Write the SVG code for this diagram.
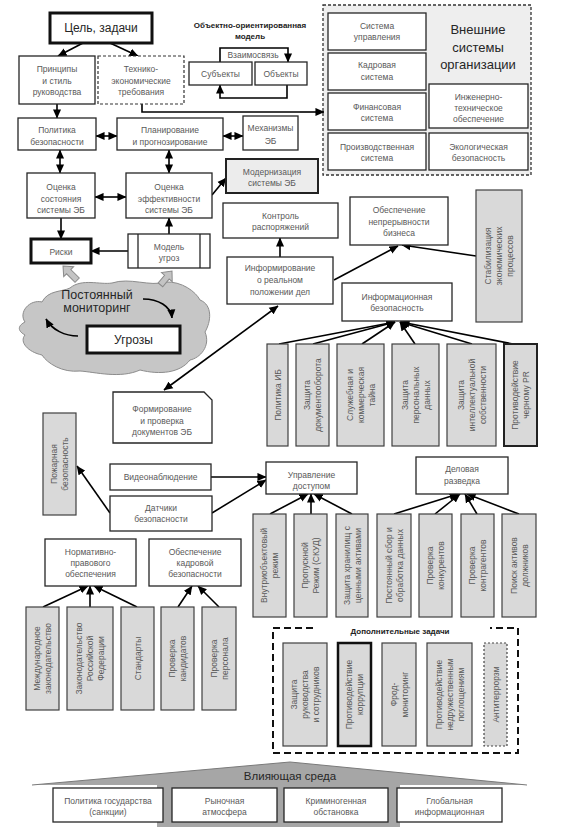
<svg xmlns="http://www.w3.org/2000/svg" width="561" height="837" viewBox="0 0 561 837">
<style>
.b{fill:#fff;stroke:#262626;stroke-width:1.3}
.g{fill:#d9d9d9;stroke:#404040;stroke-width:1.2}
.t{font-family:"Liberation Sans",Arial,sans-serif;font-size:8.5px;fill:#595959;text-anchor:middle}
.big{font-family:"Liberation Sans",Arial,sans-serif;fill:#262626;text-anchor:middle}
.bold{font-family:"Liberation Sans",Arial,sans-serif;font-size:8px;font-weight:bold;fill:#222;text-anchor:middle}
.c{stroke:#000;stroke-width:1.6;fill:none;marker-end:url(#ah)}
.d{stroke:#000;stroke-width:1.6;fill:none;marker-end:url(#ah);marker-start:url(#ah)}
.p{stroke:#000;stroke-width:1.6;fill:none}
.ga{fill:#c4c4c4;stroke:#8a8a8a;stroke-width:1}
</style>
<defs>
<marker id="ah" viewBox="0 0 10 10" refX="9.5" refY="5" markerWidth="9" markerHeight="9" markerUnits="userSpaceOnUse" orient="auto-start-reverse">
<path d="M0,0.5 L10,5 L0,9.5 z" fill="#000"/>
</marker>
</defs>
<rect width="561" height="837" fill="#fff"/>

<!-- background shapes -->
<g id="cloud">
<path d="M25,322 C18,312 30,299 42,302 C48,290 62,292 70,288 C82,278 100,285 112,283 C130,277 150,287 165,282 C182,281 196,292 200,300 C213,305 211,322 205,332 C211,346 200,358 190,360 C180,373 160,375 140,370 C120,379 95,372 80,371 C62,373 47,363 42,355 C28,352 19,342 25,335 C16,330 19,325 25,322 Z" fill="#c6c6c6" stroke="#8c8c8c" stroke-width="1"/>
<text class="big" x="97" y="299" font-size="12.5">Постоянный</text>
<text class="big" x="97" y="312" font-size="12.5">мониторинг</text>
</g>
<g id="environment">
<polygon points="32,785 290,762 527,785 400,785 400,827 157,827 157,785" fill="#a6a6a6"/>
<polyline points="32,785 290,762 527,785" fill="none" stroke="#7a7a7a" stroke-width="1"/>
<text class="big" x="290" y="780" font-size="11.5">Влияющая среда</text>
</g>
<g id="external">
<rect x="323" y="5" width="208" height="170" fill="#eeeeee" stroke="#333" stroke-width="1.3" stroke-dasharray="3 2"/>
<text class="big" x="478" y="34" font-size="13" fill="#111">Внешние</text>
<text class="big" x="478" y="52" font-size="13" fill="#111">системы</text>
<text class="big" x="478" y="69" font-size="13" fill="#111">организации</text>
</g>
<g id="extra">
<path d="M313,628 H273 V753 H518 V628 H490" fill="none" stroke="#111" stroke-width="2" stroke-dasharray="7 4"/>
<text class="bold" x="400" y="634">Дополнительные задачи</text>
</g>

<!-- connectors -->
<g id="connectors">
<path class="c" d="M83,43 L58,56"/>
<path class="c" d="M110,43 L138,56"/>
<path class="c" d="M57,104 V118"/>
<path class="p" d="M142,104 V112 H300"/>
<path class="c" d="M300,112 H324"/>
<path class="d" d="M96,136 H117"/>
<path class="d" d="M223,136 H243"/>
<path class="c" d="M220,62 V48 H288 V62"/>
<path class="c" d="M287,85 V98 H220 V85"/>
<path class="d" d="M60,150 V173"/>
<path class="d" d="M169,150 V173"/>
<path class="d" d="M95,197 H126"/>
<path class="c" d="M212,195 L226,178"/>
<path class="c" d="M61,218 V239"/>
<path class="c" d="M169,234 V218"/>
<path class="c" d="M128,251 H91"/>
<path class="c" d="M280,257 V238"/>
<path class="c" d="M334,280 L398,246"/>
<path class="c" d="M476,256 L402,245"/>
<path class="d" d="M278,306 L164,390"/>
<path class="c" d="M279,344 L395,322"/>
<path class="c" d="M313,344 L395,322"/>
<path class="c" d="M362,344 L395,322"/>
<path class="c" d="M415,344 L400,322"/>
<path class="c" d="M472,344 L400,322"/>
<path class="c" d="M513,344 L401,322"/>
<path class="c" d="M211,477 H266"/>
<path class="c" d="M212,513 L266,480"/>
<path class="c" d="M110,513 L77,466"/>
<path class="c" d="M270,514 L308,494"/>
<path class="c" d="M311,514 V494"/>
<path class="c" d="M352,514 L314,494"/>
<path class="c" d="M394,514 L458,494"/>
<path class="c" d="M435,514 L460,494"/>
<path class="c" d="M477,514 L465,494"/>
<path class="c" d="M519,514 L467,494"/>
<path class="c" d="M43,607 L88,586"/>
<path class="c" d="M90,607 V586"/>
<path class="c" d="M137,607 L94,586"/>
<path class="c" d="M178,607 L192,586"/>
<path class="c" d="M219,607 L198,586"/>
<path class="c" stroke-width="2" d="M143,299 C158,299 171,306 172,318"/>
<path class="c" stroke-width="2" d="M78,336 C65,336 52,330 46,319"/>
<polygon class="ga" transform="translate(63,266) rotate(-45)" points="0,0 7,8 3,8 3,20 -3,20 -3,8 -7,8"/>
<polygon class="ga" transform="translate(172,271) rotate(40)" points="0,0 7,8 3,8 3,18 -3,18 -3,8 -7,8"/>
</g>

<!-- nodes -->
<g id="goal"><rect x="50" y="13" width="102" height="30" fill="#fff" stroke="#111" stroke-width="3"/><text class="big" x="101" y="32" font-size="12">Цель, задачи</text></g>
<g id="principles"><rect class="b" x="19" y="56" width="76" height="48"/><text class="t" x="57" y="72">Принципы</text><text class="t" x="57" y="84">и стиль</text><text class="t" x="57" y="95">руководства</text></g>
<g id="tech"><rect x="98" y="56" width="86" height="48" fill="#fff" stroke="#333" stroke-width="1.2" stroke-dasharray="3 2"/><text class="t" x="141" y="72">Технико-</text><text class="t" x="141" y="84">экономические</text><text class="t" x="141" y="95">требования</text></g>
<g id="policy"><rect class="b" x="18" y="118" width="78" height="32"/><text class="t" x="57" y="133">Политика</text><text class="t" x="57" y="145">безопасности</text></g>
<g id="planning"><rect class="b" x="117" y="118" width="106" height="32"/><text class="t" x="170" y="133">Планирование</text><text class="t" x="170" y="145">и прогнозирование</text></g>
<g id="mechanisms"><rect class="b" x="243" y="116" width="55" height="34"/><text class="t" x="270.5" y="131">Механизмы</text><text class="t" x="270.5" y="144">ЭБ</text></g>
<g id="oomodel"><text class="bold" x="250" y="28">Объектно-ориентированная</text><text class="bold" x="250" y="39">модель</text><text class="t" x="253" y="58">Взаимосвязь</text></g>
<g id="subjects"><rect class="b" x="189" y="62" width="63" height="23"/><text class="t" x="220.5" y="77">Субъекты</text></g>
<g id="objects"><rect class="b" x="255" y="62" width="52" height="23"/><text class="t" x="281" y="77">Объекты</text></g>
<g id="ext-mgmt"><rect class="b" x="328" y="13" width="98" height="37"/><text class="t" x="377" y="29">Система</text><text class="t" x="377" y="40">управления</text></g>
<g id="ext-hr"><rect class="b" x="328" y="53" width="98" height="37"/><text class="t" x="377" y="68">Кадровая</text><text class="t" x="377" y="80">система</text></g>
<g id="ext-fin"><rect class="b" x="328" y="93" width="98" height="37"/><text class="t" x="377" y="110">Финансовая</text><text class="t" x="377" y="121">система</text></g>
<g id="ext-prod"><rect class="b" x="328" y="133" width="98" height="37"/><text class="t" x="377" y="150">Производственная</text><text class="t" x="377" y="161">система</text></g>
<g id="ext-eng"><rect class="b" x="429" y="84" width="99" height="44"/><text class="t" x="478.5" y="100">Инженерно-</text><text class="t" x="478.5" y="111">техническое</text><text class="t" x="478.5" y="122">обеспечение</text></g>
<g id="ext-eco"><rect class="b" x="429" y="133" width="99" height="37"/><text class="t" x="478.5" y="150">Экологическая</text><text class="t" x="478.5" y="161">безопасность</text></g>
<g id="state"><rect class="b" x="27" y="173" width="68" height="45"/><text class="t" x="61" y="190">Оценка</text><text class="t" x="61" y="202">состояния</text><text class="t" x="61" y="213">системы ЭБ</text></g>
<g id="efficiency"><rect class="b" x="126" y="173" width="86" height="45"/><text class="t" x="169" y="190">Оценка</text><text class="t" x="169" y="202">эффективности</text><text class="t" x="169" y="213">системы ЭБ</text></g>
<g id="modern"><rect x="226" y="159" width="92" height="34" fill="#ececec" stroke="#222" stroke-width="2"/><text class="t" x="272" y="175">Модернизация</text><text class="t" x="272" y="186">системы ЭБ</text></g>
<g id="risks"><rect x="31" y="239" width="60" height="24" fill="#fff" stroke="#111" stroke-width="3"/><text class="t" x="61" y="255">Риски</text></g>
<g id="threatmodel"><rect class="b" x="128" y="234" width="82" height="34"/><line x1="138" y1="234" x2="138" y2="268" stroke="#262626" stroke-width="1.3"/><line x1="200" y1="234" x2="200" y2="268" stroke="#262626" stroke-width="1.3"/><text class="t" x="169" y="250">Модель</text><text class="t" x="169" y="261">угроз</text></g>
<g id="threats"><rect x="87" y="326" width="93" height="27" fill="#fff" stroke="#111" stroke-width="3"/><text class="big" x="133.5" y="344" font-size="12">Угрозы</text></g>
<g id="control"><rect class="b" x="223" y="203" width="115" height="35"/><text class="t" x="280.5" y="219">Контроль</text><text class="t" x="280.5" y="230">распоряжений</text></g>
<g id="continuity"><rect class="b" x="350" y="197" width="98" height="48"/><text class="t" x="399" y="213">Обеспечение</text><text class="t" x="399" y="225">непрерывности</text><text class="t" x="399" y="236">бизнеса</text></g>
<g id="stabil"><rect class="g" x="476" y="190" width="46" height="132"/><text class="t" transform="translate(499,256) rotate(-90)"><tspan x="0" y="-8">Стабилизация</tspan><tspan x="0" y="3">экономических</tspan><tspan x="0" y="14">процессов</tspan></text></g>
<g id="inform"><rect class="b" x="227" y="257" width="106" height="47"/><text class="t" x="280" y="271">Информирование</text><text class="t" x="280" y="283">о реальном</text><text class="t" x="280" y="295">положении дел</text></g>
<g id="infosec"><rect class="b" x="342" y="283" width="110" height="38"/><text class="t" x="397" y="300">Информационная</text><text class="t" x="397" y="311">безопасность</text></g>
<g id="is-policy"><rect class="g" x="267" y="344" width="21" height="102"/><text class="t" transform="translate(277.5,395) rotate(-90)"><tspan x="0" y="3">Политика ИБ</tspan></text></g>
<g id="is-docs"><rect class="g" x="296" y="344" width="33" height="102"/><text class="t" transform="translate(312.5,395) rotate(-90)"><tspan x="0" y="-2.5">Защита</tspan><tspan x="0" y="8.5">документооборота</tspan></text></g>
<g id="is-secret"><rect class="g" x="337" y="344" width="47" height="102"/><text class="t" transform="translate(360.5,395) rotate(-90)"><tspan x="0" y="-8">Служебная и</tspan><tspan x="0" y="3">коммерческая</tspan><tspan x="0" y="14">тайна</tspan></text></g>
<g id="is-personal"><rect class="g" x="392" y="344" width="47" height="102"/><text class="t" transform="translate(415.5,395) rotate(-90)"><tspan x="0" y="-8">Защита</tspan><tspan x="0" y="3">персональных</tspan><tspan x="0" y="14">данных</tspan></text></g>
<g id="is-ip"><rect class="g" x="447" y="344" width="49" height="102"/><text class="t" transform="translate(471.5,395) rotate(-90)"><tspan x="0" y="-8">Защита</tspan><tspan x="0" y="3">интеллектуальной</tspan><tspan x="0" y="14">собственности</tspan></text></g>
<g id="is-pr"><rect x="504" y="344" width="33" height="102" fill="#d9d9d9" stroke="#222" stroke-width="2"/><text class="t" transform="translate(520.5,395) rotate(-90)"><tspan x="0" y="-2.5">Противодействие</tspan><tspan x="0" y="8.5">черному PR</tspan></text></g>
<g id="docs"><path d="M113,392 H204 L212,400 V443 H113 Z" class="b"/><text class="t" x="162" y="412">Формирование</text><text class="t" x="162" y="424">и проверка</text><text class="t" x="162" y="435">документов ЭБ</text></g>
<g id="fire"><rect class="g" x="43" y="413" width="33" height="102"/><text class="t" transform="translate(59.5,464) rotate(-90)"><tspan x="0" y="-2.5">Пожарная</tspan><tspan x="0" y="8.5">безопасность</tspan></text></g>
<g id="video"><rect class="b" x="110" y="464" width="101" height="26"/><text class="t" x="160.5" y="480">Видеонаблюдение</text></g>
<g id="sensors"><rect class="b" x="110" y="496" width="102" height="35"/><text class="t" x="161" y="511">Датчики</text><text class="t" x="161" y="522">безопасности</text></g>
<g id="access"><rect class="b" x="266" y="462" width="91" height="32"/><text class="t" x="311.5" y="478">Управление</text><text class="t" x="311.5" y="489">доступом</text></g>
<g id="intel"><rect class="b" x="416" y="457" width="92" height="37"/><text class="t" x="462" y="472">Деловая</text><text class="t" x="462" y="484">разведка</text></g>
<g id="ac-1"><rect class="g" x="253" y="514" width="33" height="103"/><text class="t" transform="translate(269.5,565.5) rotate(-90)"><tspan x="0" y="-2.5">Внутриобъектовый</tspan><tspan x="0" y="8.5">режим</tspan></text></g>
<g id="ac-2"><rect class="g" x="294" y="514" width="33" height="103"/><text class="t" transform="translate(310.5,565.5) rotate(-90)"><tspan x="0" y="-2.5">Пропускной</tspan><tspan x="0" y="8.5">Режим (СКУД)</tspan></text></g>
<g id="ac-3"><rect class="g" x="336" y="514" width="32" height="103"/><text class="t" transform="translate(352,565.5) rotate(-90)"><tspan x="0" y="-2.5">Защита хранилищ с</tspan><tspan x="0" y="8.5">ценными активами</tspan></text></g>
<g id="bi-1"><rect class="g" x="377" y="514" width="34" height="103"/><text class="t" transform="translate(394,565.5) rotate(-90)"><tspan x="0" y="-2.5">Постоянный сбор и</tspan><tspan x="0" y="8.5">обработка данных</tspan></text></g>
<g id="bi-2"><rect class="g" x="419" y="514" width="33" height="103"/><text class="t" transform="translate(435.5,565.5) rotate(-90)"><tspan x="0" y="-2.5">Проверка</tspan><tspan x="0" y="8.5">конкурентов</tspan></text></g>
<g id="bi-3"><rect class="g" x="461" y="514" width="33" height="103"/><text class="t" transform="translate(477.5,565.5) rotate(-90)"><tspan x="0" y="-2.5">Проверка</tspan><tspan x="0" y="8.5">контрагентов</tspan></text></g>
<g id="bi-4"><rect class="g" x="502" y="514" width="34" height="103"/><text class="t" transform="translate(519,565.5) rotate(-90)"><tspan x="0" y="-2.5">Поиск активов</tspan><tspan x="0" y="8.5">должников</tspan></text></g>
<g id="legal"><rect class="b" x="45" y="539" width="91" height="47"/><text class="t" x="90.5" y="555">Нормативно-</text><text class="t" x="90.5" y="566">правового</text><text class="t" x="90.5" y="577">обеспечения</text></g>
<g id="hrsec"><rect class="b" x="149" y="539" width="92" height="47"/><text class="t" x="195" y="555">Обеспечение</text><text class="t" x="195" y="566">кадровой</text><text class="t" x="195" y="577">безопасности</text></g>
<g id="lg-1"><rect class="g" x="26" y="607" width="33" height="103"/><text class="t" transform="translate(42.5,658.5) rotate(-90)"><tspan x="0" y="-2.5">Международное</tspan><tspan x="0" y="8.5">законодательство</tspan></text></g>
<g id="lg-2"><rect class="g" x="67" y="607" width="46" height="103"/><text class="t" transform="translate(90,658.5) rotate(-90)"><tspan x="0" y="-8">Законодательство</tspan><tspan x="0" y="3">Российской</tspan><tspan x="0" y="14">Федерации</tspan></text></g>
<g id="lg-3"><rect class="g" x="121" y="607" width="33" height="103"/><text class="t" transform="translate(137.5,658.5) rotate(-90)"><tspan x="0" y="3">Стандарты</tspan></text></g>
<g id="hr-1"><rect class="g" x="161" y="607" width="33" height="103"/><text class="t" transform="translate(177.5,658.5) rotate(-90)"><tspan x="0" y="-2.5">Проверка</tspan><tspan x="0" y="8.5">кандидатов</tspan></text></g>
<g id="hr-2"><rect class="g" x="202" y="607" width="34" height="103"/><text class="t" transform="translate(219,658.5) rotate(-90)"><tspan x="0" y="-2.5">Проверка</tspan><tspan x="0" y="8.5">персонала</tspan></text></g>
<g id="ex-1"><rect class="g" x="283" y="643" width="44" height="103"/><text class="t" transform="translate(305,694.5) rotate(-90)"><tspan x="0" y="-8">Защита</tspan><tspan x="0" y="3">руководства</tspan><tspan x="0" y="14">и сотрудников</tspan></text></g>
<g id="ex-2"><rect x="338" y="643" width="33" height="103" fill="#d9d9d9" stroke="#111" stroke-width="2.5"/><text class="t" transform="translate(354.5,694.5) rotate(-90)"><tspan x="0" y="-2.5">Противодействие</tspan><tspan x="0" y="8.5">коррупции</tspan></text></g>
<g id="ex-3"><rect class="g" x="382" y="643" width="34" height="103"/><text class="t" transform="translate(399,694.5) rotate(-90)"><tspan x="0" y="-2.5">Фрод-</tspan><tspan x="0" y="8.5">мониторинг</tspan></text></g>
<g id="ex-4"><rect class="g" x="427" y="643" width="45" height="103"/><text class="t" transform="translate(449.5,694.5) rotate(-90)"><tspan x="0" y="-8">Противодействие</tspan><tspan x="0" y="3">недружественным</tspan><tspan x="0" y="14">поглощениям</tspan></text></g>
<g id="ex-5"><rect x="484" y="643" width="23" height="103" fill="#d9d9d9" stroke="#444" stroke-width="1.2" stroke-dasharray="2 2"/><text class="t" transform="translate(495.5,694.5) rotate(-90)"><tspan x="0" y="3">Антитеррорзм</tspan></text></g>
<g id="env-1"><rect class="b" x="53" y="788" width="110" height="34"/><text class="t" x="108" y="804">Политика государства</text><text class="t" x="108" y="815">(санкции)</text></g>
<g id="env-2"><rect class="b" x="172" y="788" width="105" height="34"/><text class="t" x="224.5" y="804">Рыночная</text><text class="t" x="224.5" y="815">атмосфера</text></g>
<g id="env-3"><rect class="b" x="284" y="788" width="104" height="34"/><text class="t" x="336" y="804">Криминогенная</text><text class="t" x="336" y="815">обстановка</text></g>
<g id="env-4"><rect class="b" x="397" y="788" width="105" height="34"/><text class="t" x="449.5" y="804">Глобальная</text><text class="t" x="449.5" y="815">информационная</text></g>
</svg>
